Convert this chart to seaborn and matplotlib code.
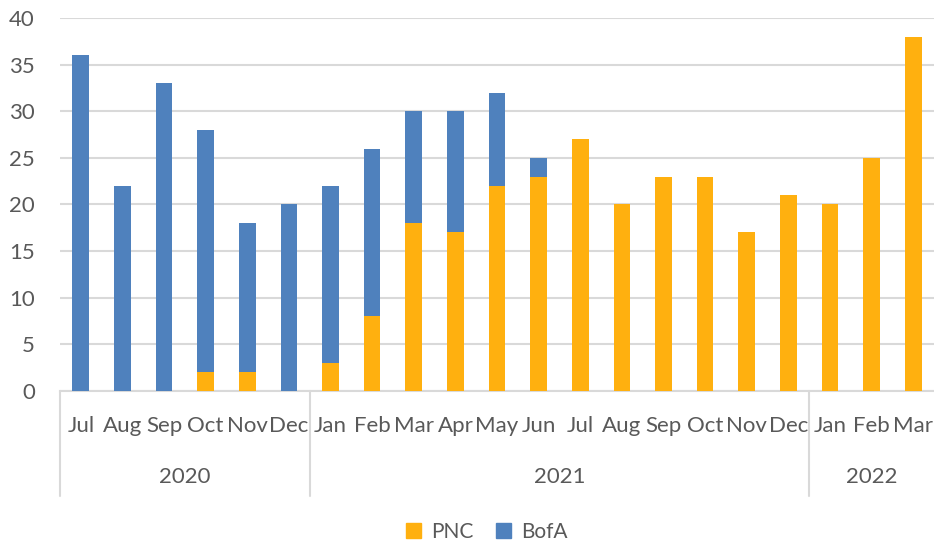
import matplotlib
matplotlib.use("Agg")
import matplotlib.pyplot as plt
import matplotlib.transforms as mtransforms
from matplotlib.patches import Patch
import seaborn as sns
import pandas as pd

months = ["Jul", "Aug", "Sep", "Oct", "Nov", "Dec",
          "Jan", "Feb", "Mar", "Apr", "May", "Jun", "Jul", "Aug", "Sep", "Oct", "Nov", "Dec",
          "Jan", "Feb", "Mar"]
years = ["2020"] * 6 + ["2021"] * 12 + ["2022"] * 3
pnc = [0, 0, 0, 2, 2, 0, 3, 8, 18, 17, 22, 23, 27, 20, 23, 23, 17, 21, 20, 25, 38]
bofa = [36, 22, 33, 26, 16, 20, 19, 18, 12, 13, 10, 2, 0, 0, 0, 0, 0, 0, 0, 0, 0]
year_groups = ["2020", "2021", "2022"]

PNC_COLOR = "#FFB00F"
BOFA_COLOR = "#4F81BD"
TEXT = "#595959"
GRID = "#D9D9D9"
FS = 16

df = pd.DataFrame({"month": months, "year": years, "PNC": pnc, "BofA": bofa})
df["key"] = df["year"] + "-" + df["month"]
df["total"] = df["PNC"] + df["BofA"]
order = list(df["key"])

sns.set_theme(style="white")
plt.rcParams["font.family"] = ["Lato", "DejaVu Sans"]

fig = plt.figure(figsize=(9.34, 5.46), dpi=100)
ax = fig.add_axes([60 / 934, 155 / 546, 874 / 934, (391 - 18) / 546])

sns.barplot(data=df, x="key", y="total", order=order, color=BOFA_COLOR,
            width=0.4, saturation=1, linewidth=0, ax=ax, zorder=3)
sns.barplot(data=df, x="key", y="PNC", order=order, color=PNC_COLOR,
            width=0.4, saturation=1, linewidth=0, ax=ax, zorder=4)

ax.set_xlim(-0.5, len(order) - 0.5)
ax.set_ylim(0, 40)
ax.set_yticks(range(0, 41, 5))
ax.yaxis.grid(True, color=GRID, linewidth=1.5, zorder=0)
ax.set_axisbelow(True)
for s in ["top", "right", "left"]:
    ax.spines[s].set_visible(False)
ax.spines["bottom"].set_color(GRID)
ax.spines["bottom"].set_linewidth(1.5)
ax.set_xlabel("")
ax.set_ylabel("")
ax.set_xticks(range(len(order)))
ax.set_xticklabels(months)
ax.tick_params(axis="x", length=0, pad=18, labelsize=FS, labelcolor=TEXT)
ax.tick_params(axis="y", length=0, pad=18, labelsize=FS, labelcolor=TEXT)

trans = mtransforms.blended_transform_factory(ax.transData, ax.transAxes)
sep_bottom = -(496 - 391) / 373
start = 0
for yr in year_groups:
    n = years.count(yr)
    ax.plot([start - 0.5, start - 0.5], [0, sep_bottom], transform=trans,
            color=GRID, linewidth=1.5, clip_on=False)
    center = start + (n - 1) / 2
    ax.text(center, -(477 - 391) / 373, yr, transform=trans, ha="center",
            va="center", fontsize=FS, color=TEXT)
    start += n

handles = [Patch(color=PNC_COLOR, label="PNC"), Patch(color=BOFA_COLOR, label="BofA")]
fig.legend(handles=handles, loc="center", bbox_to_anchor=(487 / 934, 1 - 532 / 546),
           ncol=2, frameon=False, fontsize=15, labelcolor=TEXT,
           handlelength=0.7, handleheight=0.7, handletextpad=0.5, columnspacing=1.1)

fig.savefig("out.png", dpi=100)
